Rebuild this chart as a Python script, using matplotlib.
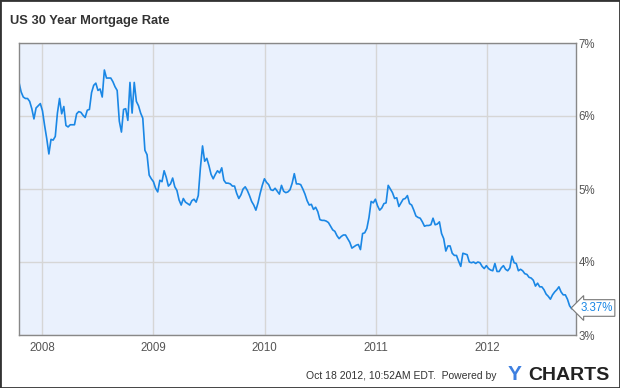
import matplotlib
matplotlib.use("Agg")
import matplotlib.pyplot as plt
import matplotlib.dates as mdates
from matplotlib.patches import Rectangle
import pandas as pd

plt.rcParams['font.family'] = ['Liberation Sans', 'DejaVu Sans']

# weekly 30 year fixed rate, Oct 18 2007 .. Oct 18 2012
rates_2007 = [6.46, 6.33, 6.26, 6.24, 6.24, 6.20, 6.10, 5.96, 6.11, 6.14, 6.17]
rates_2008 = [6.07, 5.87, 5.69, 5.48, 5.68, 5.67, 5.72, 6.04, 6.24, 6.03, 6.13, 5.87, 5.85,
              5.88, 5.88, 5.88, 6.03, 6.06, 6.05, 6.01, 5.98, 6.08, 6.09, 6.32, 6.42, 6.45,
              6.35, 6.37, 6.26, 6.63, 6.52, 6.52, 6.52, 6.47, 6.40, 6.35, 5.93, 5.78, 6.09,
              6.10, 5.94, 6.46, 6.04, 6.46, 6.20, 6.14, 6.04, 5.97, 5.53, 5.47, 5.19, 5.14]
rates_2009 = [5.10, 5.01, 4.96, 5.12, 5.10, 5.25, 5.16, 5.04, 5.07, 5.15, 5.03, 4.98, 4.85,
              4.78, 4.87, 4.82, 4.80, 4.78, 4.84, 4.86, 4.82, 4.91, 5.29, 5.59, 5.38, 5.42,
              5.32, 5.20, 5.14, 5.20, 5.25, 5.22, 5.29, 5.12, 5.08, 5.08, 5.07, 5.04, 5.04,
              4.94, 4.87, 4.92, 5.00, 5.03, 4.98, 4.91, 4.83, 4.78, 4.71, 4.81, 4.94, 5.05, 5.14]
rates_2010 = [5.09, 5.06, 4.99, 4.98, 5.01, 4.97, 4.93, 5.05, 4.97, 4.95, 4.96, 4.99, 5.08,
              5.21, 5.07, 5.07, 5.06, 5.00, 4.93, 4.84, 4.78, 4.79, 4.72, 4.75, 4.69, 4.58,
              4.57, 4.57, 4.56, 4.54, 4.49, 4.44, 4.42, 4.36, 4.32, 4.35, 4.37, 4.37, 4.32,
              4.27, 4.19, 4.21, 4.23, 4.24, 4.17, 4.39, 4.40, 4.46, 4.61, 4.83, 4.81, 4.86]
rates_2011 = [4.77, 4.71, 4.74, 4.80, 4.81, 5.05, 5.00, 4.95, 4.87, 4.88, 4.76, 4.81, 4.86,
              4.87, 4.91, 4.80, 4.78, 4.71, 4.63, 4.61, 4.60, 4.55, 4.49, 4.50, 4.50, 4.51,
              4.60, 4.51, 4.52, 4.55, 4.39, 4.32, 4.15, 4.22, 4.22, 4.12, 4.09, 4.09, 4.01,
              3.94, 4.12, 4.11, 4.10, 4.00, 3.99, 4.00, 3.98, 4.00, 3.99, 3.94, 3.91, 3.95]
rates_2012 = [3.91, 3.89, 3.88, 3.98, 3.87, 3.87, 3.92, 3.95, 3.90, 3.88, 3.92, 4.08, 3.99,
              3.98, 3.88, 3.90, 3.88, 3.84, 3.83, 3.79, 3.78, 3.75, 3.67, 3.71, 3.66, 3.66,
              3.62, 3.56, 3.53, 3.49, 3.55, 3.59, 3.62, 3.66, 3.59, 3.55, 3.55, 3.49, 3.40,
              3.36, 3.39, 3.37]

rates = rates_2007 + rates_2008 + rates_2009 + rates_2010 + rates_2011 + rates_2012
dates = pd.date_range('2007-10-18', periods=len(rates), freq='7D')
y_ticks = [3, 4, 5, 6, 7]

fig = plt.figure(figsize=(6.2, 3.88), dpi=100)
ax = fig.add_axes([19 / 620, 53 / 388, 557 / 620, 292 / 388])
ax.set_facecolor('#eaf1fd')

ax.plot(dates, rates, color='#1a87e5', linewidth=1.2)

ax.set_xlim(dates[0], dates[-1])
ax.set_ylim(3, 7)
ax.set_yticks(y_ticks)
ax.set_yticklabels([f'{t}%' for t in y_ticks])
ax.yaxis.tick_right()
ax.xaxis.set_major_locator(mdates.YearLocator())
ax.xaxis.set_major_formatter(mdates.DateFormatter('%Y'))
ax.tick_params(axis='both', length=0, labelsize=8.3, colors='#555555')
ax.tick_params(axis='y', pad=2)
ax.tick_params(axis='x', pad=5)
ax.grid(True, color='#d6d6d6', linewidth=1)
ax.set_axisbelow(True)
for s in ax.spines.values():
    s.set_color('#888888')
    s.set_linewidth(1)

# last value tag
ax.annotate(f'{rates[-1]:.2f}%', xy=(1.0, rates[-1]), xycoords=('axes fraction', 'data'),
            xytext=(3, 0), textcoords='offset points', va='center', ha='left',
            fontsize=8.3, color='#1a87e5',
            bbox=dict(boxstyle='larrow,pad=0.2', fc='white', ec='#777777', lw=0.8))

fig.text(10 / 620, 1 - 21 / 388, 'US 30 Year Mortgage Rate', fontsize=9.3,
         fontweight='bold', color='#333333', va='center', ha='left')
fig.text(497 / 620, 1 - 376 / 388, 'Oct 18 2012, 10:52AM EDT.  Powered by', fontsize=7.5,
         color='#333333', va='center', ha='right')
fig.text(508 / 620, 1 - 375 / 388, 'Y', fontsize=15, fontweight='bold',
         color='#3d7fe0', va='center', ha='left')
fig.text(528 / 620, 1 - 375 / 388, 'CHARTS', fontsize=14, fontweight='bold',
         color='#222222', va='center', ha='left')

fig.add_artist(Rectangle((0, 0), 1, 1, transform=fig.transFigure, fill=False,
                         edgecolor='#333333', linewidth=2))

fig.savefig('out.png', dpi=100)
